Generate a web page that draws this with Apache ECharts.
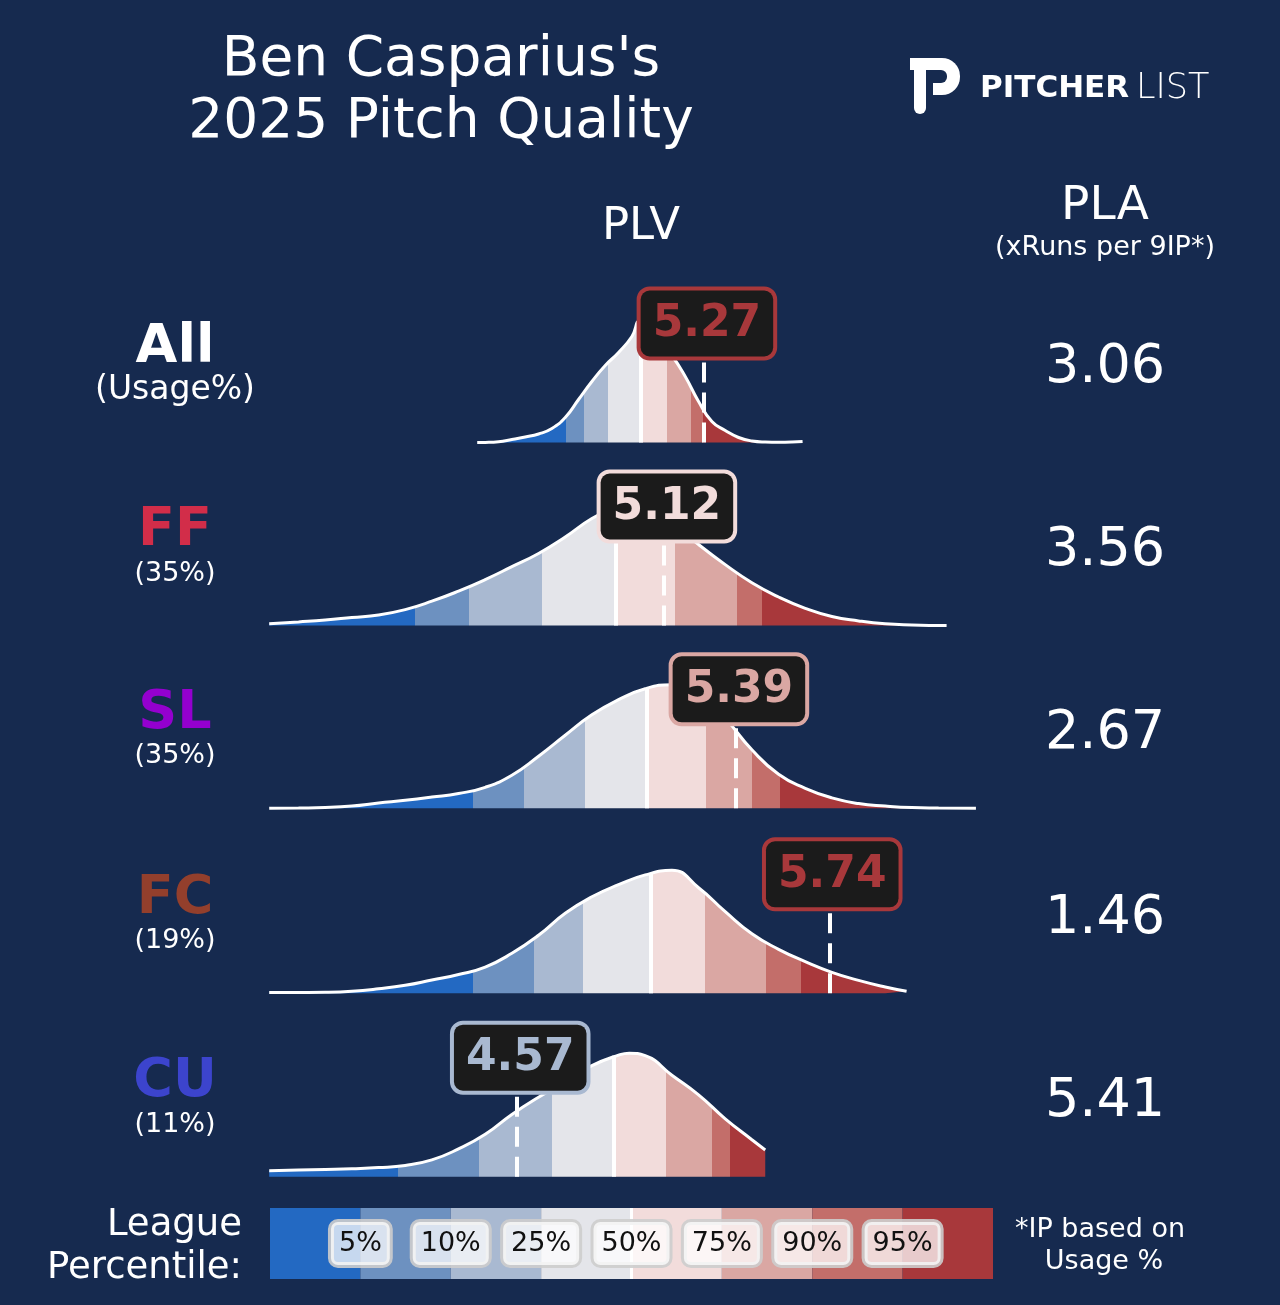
<!DOCTYPE html>
<html><head><meta charset="utf-8">
<script src="https://cdn.jsdelivr.net/npm/echarts@6/dist/echarts.min.js"></script>
<style>html,body{margin:0;padding:0;background:#162a4f;}#c{width:1280px;height:1305px;}</style>
</head><body><div id="c"></div>
<script>
// ---------- data ----------
const titleLines = ["Ben Casparius's", "2025 Pitch Quality"];
const pitchNames = ['All', 'FF', 'SL', 'FC', 'CU'];
const usageLabels = ['(Usage%)', '(35%)', '(35%)', '(19%)', '(11%)'];
const pitchColors = ['#ffffff', '#d22d49', '#9400cf', '#933f2c', '#3c44cd'];
const plvValues = [5.27, 5.12, 5.39, 5.74, 4.57];
const plaValues = ['3.06', '3.56', '2.67', '1.46', '5.41'];
const bandColors = ['#2369c2', '#6d91c0', '#a9b9d1', '#e4e5ea', '#f2dcdb', '#daa7a3', '#c36e6a', '#a8383b'];
const percentileLabels = ['5%', '10%', '25%', '50%', '75%', '90%', '95%'];

// league percentile boundaries (5,10,25,50,75,90,95) per pitch type, PLV units
const allBounds = [4.753, 4.820, 4.909, 5.034, 5.130, 5.220, 5.265];
const ffBounds  = [4.187, 4.389, 4.663, 4.940, 5.162, 5.394, 5.488];
const slBounds  = [4.403, 4.594, 4.824, 5.054, 5.278, 5.450, 5.557];
const fcBounds  = [4.406, 4.633, 4.817, 5.070, 5.275, 5.504, 5.633];
const cuBounds  = [4.122, 4.428, 4.699, 4.933, 5.128, 5.299, 5.368];
// density at the median (height of the white median line)
const medianHeights = [1.20, 1.19, 1.20, 1.195, 1.21];

// pitcher PLV density curves
const allX = [4.42,4.45,4.50,4.55,4.60,4.65,4.70,4.75,4.80,4.85,4.90,4.95,5.00,5.03,5.05,5.10,5.15,5.20,5.25,5.30,5.35,5.40,5.45,5.50,5.55,5.60,5.64];
const allY = [0,0.001,0.008,0.03,0.055,0.085,0.14,0.25,0.43,0.61,0.77,0.90,1.06,1.22,1.17,1.03,0.87,0.66,0.41,0.21,0.12,0.05,0.015,0.005,0.003,0.005,0.01];
const ffX = [3.64,3.75,3.85,3.95,4.05,4.15,4.25,4.35,4.45,4.55,4.65,4.75,4.85,4.95,5.00,5.05,5.10,5.15,5.25,5.35,5.45,5.55,5.65,5.75,5.85,5.95,6.05,6.18];
const ffY = [0.017,0.036,0.055,0.08,0.105,0.159,0.243,0.344,0.459,0.588,0.72,0.885,1.07,1.20,1.25,1.26,1.17,1.03,0.81,0.609,0.428,0.285,0.172,0.09,0.046,0.017,0.006,0];
const slX = [3.64,3.75,3.85,3.95,4.05,4.15,4.25,4.35,4.45,4.55,4.65,4.75,4.85,4.95,5.05,5.15,5.25,5.35,5.45,5.55,5.65,5.75,5.85,5.95,6.05,6.15,6.29];
const slY = [0,0.003,0.008,0.023,0.053,0.08,0.112,0.148,0.21,0.33,0.52,0.73,0.935,1.086,1.196,1.235,1.16,0.90,0.585,0.34,0.20,0.104,0.047,0.022,0.007,0.003,0];
const fcX = [3.64,3.75,3.85,3.95,4.05,4.15,4.25,4.35,4.45,4.55,4.65,4.75,4.85,4.95,5.05,5.15,5.25,5.35,5.45,5.55,5.65,5.75,5.85,5.95,6.03];
const fcY = [0.007,0.008,0.01,0.02,0.045,0.08,0.133,0.188,0.262,0.40,0.58,0.80,0.965,1.086,1.184,1.23,1.056,0.816,0.595,0.44,0.317,0.21,0.129,0.063,0.02];
const cuX = [3.64,3.75,3.85,3.95,4.05,4.15,4.25,4.35,4.45,4.55,4.65,4.75,4.85,4.95,4.99,5.05,5.15,5.25,5.35,5.45,5.50];
const cuY = [0.06,0.067,0.073,0.08,0.091,0.113,0.168,0.278,0.424,0.623,0.795,0.95,1.11,1.215,1.235,1.21,1.015,0.819,0.579,0.37,0.267];

// ---------- layout ----------
const FONT = '"DejaVu Sans", sans-serif';
const BG = '#162a4f';
const X_MIN = 3.643, X_MAX = 6.354;
const GRID_LEFT = 270, GRID_W = 723, GRID_H = 160, Y_MAX = 1.6;
const rowBaselines = [442.5, 625.5, 808.3, 993.3, 1176.7];
const LABEL_Y = 0.85;

const rowX = [allX, ffX, slX, fcX, cuX];
const rowY = [allY, ffY, slY, fcY, cuY];
const rowBounds = [allBounds, ffBounds, slBounds, fcBounds, cuBounds];

function bandIndex(v, b) { let k = 0; while (k < b.length && v >= b[k]) k++; return k; }

const grids = [], xAxes = [], yAxes = [], series = [], visualMaps = [], graphics = [];

function txt(x, y, text, font, align, fill) {
  graphics.push({ type: 'text', x: x, y: y + 3, silent: true,
    style: { text: text, fill: fill || '#ffffff', font: font, align: align || 'center', verticalAlign: 'middle' } });
}

rowBaselines.forEach((base, i) => {
  grids.push({ left: GRID_LEFT, width: GRID_W, top: base - GRID_H, height: GRID_H });
  xAxes.push({ type: 'value', gridIndex: i, min: X_MIN, max: X_MAX, show: false });
  yAxes.push({ type: 'value', gridIndex: i, min: 0, max: Y_MAX, show: false });
  const b = rowBounds[i];
  const pieces = [];
  for (let k = 0; k <= b.length; k++) {
    const p = { color: bandColors[k] };
    if (k > 0) p.gte = b[k - 1];
    if (k < b.length) p.lt = b[k];
    pieces.push(p);
  }
  visualMaps.push({ type: 'piecewise', show: false, seriesIndex: i, dimension: 0, pieces: pieces });
  const v = plvValues[i];
  const col = bandColors[bandIndex(v, b)];
  series.push({
    type: 'line', xAxisIndex: i, yAxisIndex: i,
    data: rowX[i].map((x, j) => [x, rowY[i][j]]),
    smooth: 0.5, symbol: 'none', clip: false, silent: true, animation: false,
    lineStyle: { color: '#ffffff', width: 3 },
    areaStyle: { opacity: 1 },
    markLine: {
      silent: true, symbol: ['none', 'none'], animation: false, z: 5,
      data: [
        [{ coord: [b[3], 0] }, { coord: [b[3], medianHeights[i]],
          lineStyle: { color: '#ffffff', width: 4, type: 'solid' }, label: { show: false } }],
        [{ coord: [v, 0] }, { coord: [v, LABEL_Y],
          lineStyle: { color: '#ffffff', width: 4, type: [20, 10] },
          label: { show: true, position: 'end', distance: 1, offset: [3, 0], formatter: v.toFixed(2),
            color: col, fontSize: 44, fontWeight: 'bold', fontFamily: FONT, lineHeight: 50,
            backgroundColor: '#1b1b1b', borderColor: col, borderWidth: 4, borderRadius: 9,
            padding: [9, 12, 7, 12] } }]
      ]
    }
  });

  txt(175, base - 97.5, pitchNames[i], 'bold 54px ' + FONT, 'center', pitchColors[i]);
  txt(175, base - 55, usageLabels[i], (i === 0 ? 33 : 27) + 'px ' + FONT);
  txt(1105, base - 77.5, plaValues[i], '54px ' + FONT);
});

// legend bar
grids.push({ left: GRID_LEFT, width: GRID_W, top: 1208, height: 71 });
xAxes.push({ type: 'value', gridIndex: 5, min: 0, max: bandColors.length, show: false });
yAxes.push({ type: 'value', gridIndex: 5, min: 0, max: 1, show: false });
series.push({
  type: 'scatter', xAxisIndex: 5, yAxisIndex: 5, silent: true, animation: false,
  symbolSize: 1, itemStyle: { color: 'rgba(0,0,0,0)' },
  data: percentileLabels.map((l, i) => [i + 1, 0.5]),
  label: { show: true, position: 'inside', formatter: p => percentileLabels[p.dataIndex],
    color: '#111111', opacity: 1, fontSize: 27, fontFamily: FONT, lineHeight: 31,
    backgroundColor: 'rgba(255,255,255,0.74)', borderColor: 'rgba(205,205,205,0.9)',
    borderWidth: 3, borderRadius: 7, padding: [6, 8, 6, 8] },
  markArea: { silent: true, z: 1, label: { show: false },
    data: bandColors.map((c, i) => [{ xAxis: i, itemStyle: { color: c, opacity: 1 } }, { xAxis: i + 1 }]) },
  markLine: { silent: true, z: 1.5, symbol: ['none', 'none'], label: { show: false },
    lineStyle: { color: '#ffffff', width: 3, type: 'solid' },
    data: [{ xAxis: 4 }] }
});

// headers and static text
txt(441, 58, titleLines[0], '55px ' + FONT);
txt(441, 120, titleLines[1], '55px ' + FONT);
txt(641, 224, 'PLV', '45px ' + FONT);
txt(1105, 204, 'PLA', '47px ' + FONT);
txt(1105, 245, '(xRuns per 9IP*)', '27px ' + FONT);
txt(242, 1222, 'League', '37px ' + FONT, 'right');
txt(242, 1265, 'Percentile:', '37px ' + FONT, 'right');
txt(1100, 1227, '*IP based on', '27px ' + FONT);
txt(1104, 1259, 'Usage %', '27px ' + FONT);

// logo (simple "P" mark + wordmark)
graphics.push({ type: 'rect', silent: true, shape: { x: 920, y: 58, width: 40, height: 37, r: [0, 18, 18, 0] }, style: { fill: '#ffffff' } });
graphics.push({ type: 'rect', silent: true, shape: { x: 910, y: 58, width: 20, height: 12 }, style: { fill: '#ffffff' } });
graphics.push({ type: 'rect', silent: true, shape: { x: 926, y: 70, width: 21, height: 13, r: [0, 6, 6, 0] }, style: { fill: BG } });
graphics.push({ type: 'rect', silent: true, shape: { x: 926, y: 83, width: 7, height: 13 }, style: { fill: BG } });
graphics.push({ type: 'rect', silent: true, shape: { x: 914, y: 62, width: 12, height: 52, r: [0, 0, 6, 6] }, style: { fill: '#ffffff' } });
txt(980, 86, 'PITCHER', 'bold 31px ' + FONT, 'left');
txt(1136, 86, 'LIST', '200 35px ' + FONT, 'left');

const chart = echarts.init(document.getElementById('c'), null, { renderer: 'canvas' });
chart.setOption({
  backgroundColor: BG,
  animation: false,
  grid: grids, xAxis: xAxes, yAxis: yAxes,
  visualMap: visualMaps,
  series: series,
  graphic: { elements: graphics }
});
</script></body></html>
